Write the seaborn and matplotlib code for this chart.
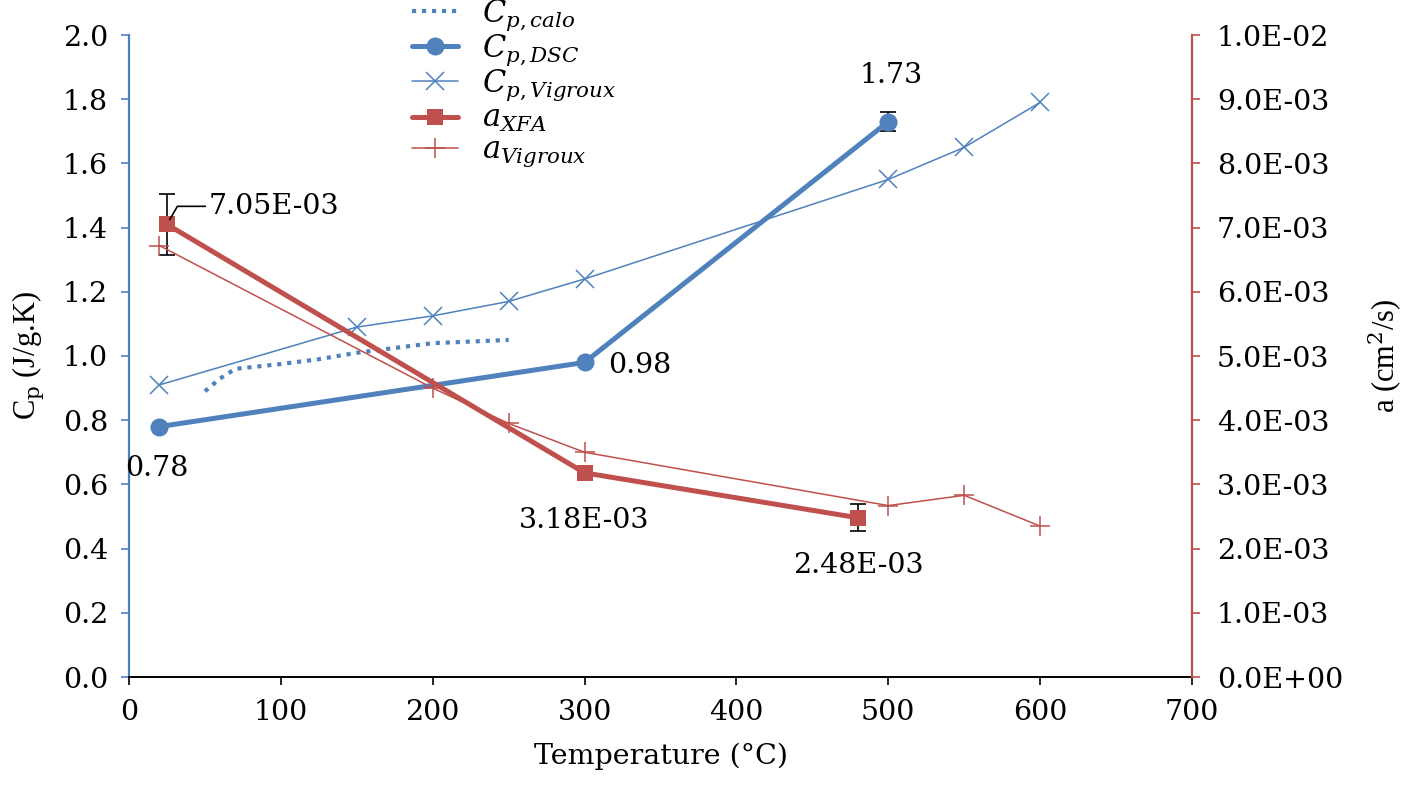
import numpy as np
import matplotlib
matplotlib.use('Agg')
import matplotlib.pyplot as plt
from matplotlib.ticker import FuncFormatter, MultipleLocator
import seaborn as sns

# data
calo_T = [50, 60, 70, 80, 100, 125, 150, 175, 200, 225, 250]
calo_cp = [0.89, 0.93, 0.96, 0.965, 0.975, 0.99, 1.01, 1.025, 1.04, 1.045, 1.05]

dsc_T = [20, 300, 500]
dsc_cp = [0.78, 0.98, 1.73]
dsc_err = [0.0, 0.0, 0.03]
dsc_labels = ['0.78', '0.98', '1.73']

vig_T = [20, 150, 200, 250, 300, 500, 550, 600]
vig_cp = [0.91, 1.09, 1.125, 1.17, 1.24, 1.55, 1.65, 1.79]

xfa_T = [25, 300, 480]
xfa_a = [7.05e-3, 3.18e-3, 2.48e-3]
xfa_err = [0.47e-3, 0.08e-3, 0.21e-3]
xfa_labels = ['7.05E-03', '3.18E-03', '2.48E-03']

avig_T = [20, 200, 250, 300, 500, 550, 600]
avig_a = [6.72e-3, 4.5e-3, 3.95e-3, 3.5e-3, 2.67e-3, 2.83e-3, 2.35e-3]

BLUE = '#4F81BD'
RED = '#C0504D'

sns.set_style('white')
plt.rcParams['font.family'] = ['DejaVu Serif']
plt.rcParams['mathtext.fontset'] = 'dejavuserif'
for k in ('text.color', 'axes.labelcolor', 'xtick.labelcolor', 'ytick.labelcolor'):
    plt.rcParams[k] = 'black'

fig = plt.figure(figsize=(14.19, 7.88), dpi=100)
ax = fig.add_axes([129 / 1419, 1 - 677 / 788, (1192 - 129) / 1419, (677 - 35) / 788])
ax2 = ax.twinx()

# left axis: heat capacity
sns.lineplot(x=calo_T, y=calo_cp, ax=ax, color=BLUE, linewidth=3,
             linestyle=(0, (1, 1.4)), label=r'$C_{p,calo}$', legend=False, sort=False)
sns.lineplot(x=dsc_T, y=dsc_cp, ax=ax, color=BLUE, linewidth=3.6, marker='o',
             markersize=13, markeredgewidth=0, label=r'$C_{p,DSC}$', legend=False, sort=False)
ax.errorbar(dsc_T, dsc_cp, yerr=dsc_err, fmt='none', ecolor='black', elinewidth=1.2,
            capsize=6, capthick=1.2, zorder=1)
sns.lineplot(x=vig_T, y=vig_cp, ax=ax, color=BLUE, linewidth=1.1, marker='x',
             markersize=13, markeredgewidth=1.1, markeredgecolor=BLUE,
             label=r'$C_{p,Vigroux}$', legend=False, sort=False)

# right axis: diffusivity
sns.lineplot(x=xfa_T, y=xfa_a, ax=ax2, color=RED, linewidth=3.6, marker='s',
             markersize=12, markeredgewidth=0, label=r'$a_{XFA}$', legend=False, sort=False)
ax2.errorbar(xfa_T, xfa_a, yerr=xfa_err, fmt='none', ecolor='black', elinewidth=1.2,
             capsize=6, capthick=1.2, zorder=1)
sns.lineplot(x=avig_T, y=avig_a, ax=ax2, color=RED, linewidth=1.1, marker='+',
             markersize=15, markeredgewidth=1.1, markeredgecolor=RED,
             label=r'$a_{Vigroux}$', legend=False, sort=False)

ax.set_xlim(0, 700)
ax.set_ylim(0, 2.0)
ax2.set_ylim(0, 0.01)
ax.xaxis.set_major_locator(MultipleLocator(100))
ax.yaxis.set_major_locator(MultipleLocator(0.2))
ax2.yaxis.set_major_locator(MultipleLocator(0.001))
ax.yaxis.set_major_formatter(FuncFormatter(lambda v, p: f'{v:.1f}'))
ax2.yaxis.set_major_formatter(FuncFormatter(lambda v, p: f'{v:.1E}'))

for a in (ax, ax2):
    a.spines['top'].set_visible(False)
    a.grid(False)
ax.spines['right'].set_visible(False)
ax.spines['left'].set_color(BLUE)
ax.spines['left'].set_linewidth(1.6)
ax.spines['bottom'].set_color('black')
ax.spines['bottom'].set_linewidth(1.4)
ax2.spines['left'].set_visible(False)
ax2.spines['bottom'].set_visible(False)
ax2.spines['right'].set_color(RED)
ax2.spines['right'].set_linewidth(1.6)

ax.tick_params(axis='x', direction='out', length=6, width=1.2, color='black',
               labelcolor='black', labelsize=20.5, pad=10, bottom=True)
ax.tick_params(axis='y', direction='out', length=6, width=1.2, color=BLUE,
               labelcolor='black', labelsize=20.5, pad=9, left=True)
ax2.tick_params(axis='y', direction='out', length=6, width=1.2, color=RED,
                labelcolor='black', labelsize=20.5, pad=12, right=True)

ax.set_xlabel('Temperature (°C)', fontsize=20.5, labelpad=12)
ax.set_ylabel(r'C$_\mathrm{p}$ (J/g.K)', fontsize=22, family='Liberation Serif', labelpad=12)
ax2.set_ylabel(r'a (cm$^2$/s)', fontsize=22, family='Liberation Serif', labelpad=16)

# value labels
dsc_offsets = [(-2, -30), (40, -2), (2, 33)]
for t, v, s, off in zip(dsc_T, dsc_cp, dsc_labels, dsc_offsets):
    ax.annotate(s, (t, v), xytext=off, textcoords='offset points',
                ha='center', va='center', fontsize=20.5)
ax2.annotate(xfa_labels[0], (xfa_T[0], xfa_a[0]), xytext=(30, 13), textcoords='offset points',
             ha='left', va='center', fontsize=20.5,
             arrowprops=dict(arrowstyle='-', color='black', lw=1.2, shrinkA=0, shrinkB=4,
                             relpos=(0, 0.5), connectionstyle='angle,angleA=0,angleB=60,rad=0'))
for t, v, s in zip(xfa_T[1:], xfa_a[1:], xfa_labels[1:]):
    ax2.annotate(s, (t, v), xytext=(0, -34), textcoords='offset points',
                 ha='center', va='center', fontsize=20.5)

h1, l1 = ax.get_legend_handles_labels()
h2, l2 = ax2.get_legend_handles_labels()
fig.legend(h1 + h2, l1 + l2, loc='upper left', bbox_to_anchor=(412 / 1419, 1.003),
           frameon=False, fontsize=22, handlelength=1.5, labelspacing=0.0,
           handletextpad=0.8, borderpad=0.0, borderaxespad=0.0)

fig.savefig('out.png', dpi=100)
